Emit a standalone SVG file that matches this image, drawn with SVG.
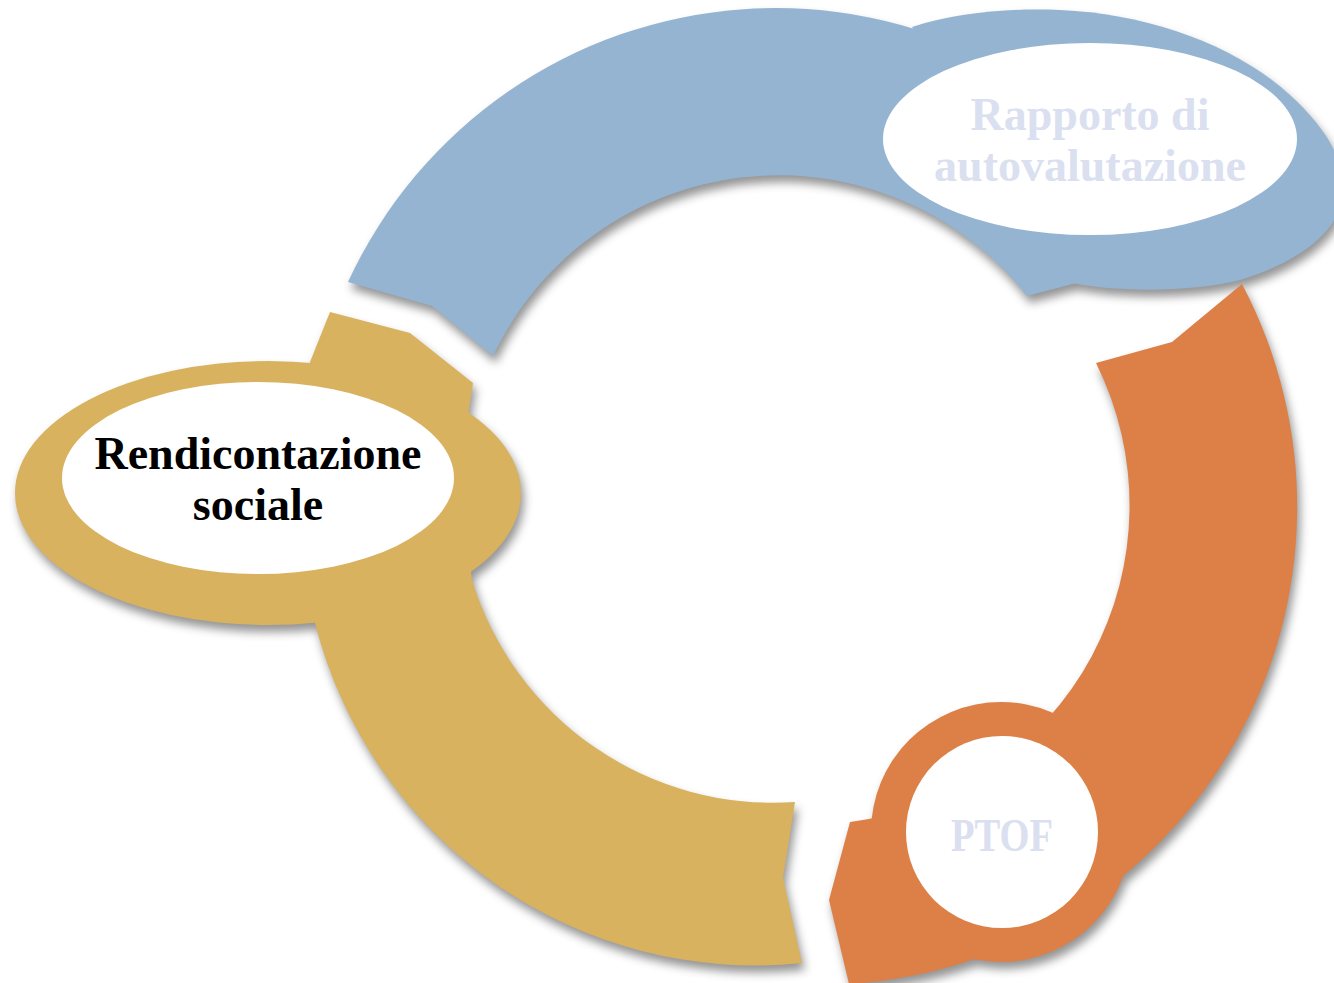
<svg xmlns="http://www.w3.org/2000/svg" width="1334" height="983" viewBox="0 0 1334 983">
  <style>
    .blue { fill: #94B4D2; }
    .orange { fill: #DD8048; }
    .gold { fill: #D8B25E; }
    .inner { fill: #FFFFFF; }
    .lbl { font-family: "Liberation Serif", "DejaVu Serif", serif; font-weight: bold; font-size: 46px; text-anchor: middle; }
    .light { fill: #DAE0F0; }
    .dark { fill: #000000; }
  </style>
  <defs>
    <filter id="sh" x="-10%" y="-10%" width="125%" height="125%">
      <feGaussianBlur in="SourceAlpha" stdDeviation="5"/>
      <feOffset dx="3" dy="7" result="b"/>
      <feFlood flood-color="#000000" flood-opacity="0.42"/>
      <feComposite in2="b" operator="in"/>
    </filter>
  </defs>

  <!-- shadow layer -->
  <g id="shadows" filter="url(#sh)">
    <use href="#arc-blue"/>
    <use href="#arc-orange"/>
    <use href="#arc-gold"/>
    <use href="#blob-blue"/>
    <use href="#blob-orange"/>
    <use href="#blob-gold"/>
  </g>

  <!-- connectors: cycle arrows -->
  <g id="connectors">
    <path id="arc-blue" class="blue" d="M 348,282 A 471 471 0 0 1 1173,226 L 1103,276 L 1027,296 A 316 316 0 0 0 493,356 L 432,306 Z"/>
    <path id="arc-orange" class="orange" d="M 1242,284 A 478 478 0 0 1 849,984 L 829,900 L 850,822 A 319 319 0 0 0 1096,363 L 1172,342 Z"/>
    <path id="arc-gold" class="gold" d="M 802,963 A 454 454 0 0 1 315,623 L 310,362 L 330,312 L 410,333 L 473,383 L 458,480 L 472,580 A 315 315 0 0 0 795,802 L 783,878 Z"/>
  </g>

  <!-- node: Rapporto di autovalutazione -->
  <g id="node-rapporto">
    <path id="blob-blue" class="blue" d="M 912,27 C 960,12 1010,8 1060,10 C 1150,14 1235,45 1290,95 C 1325,127 1346,160 1343,195 C 1340,230 1300,262 1240,280 C 1190,293 1110,292 1068,282 Z"/>
    <ellipse class="inner" cx="1090" cy="139" rx="207" ry="96"/>
    <text class="lbl light" x="1090" y="130">Rapporto di</text>
    <text class="lbl light" x="1090" y="181">autovalutazione</text>
  </g>

  <!-- node: PTOF -->
  <g id="node-ptof">
    <circle id="blob-orange" class="orange" cx="1001" cy="832" r="130"/>
    <circle class="inner" cx="1002" cy="832" r="96"/>
    <text class="lbl light" x="1002" y="851" textLength="102" lengthAdjust="spacingAndGlyphs">PTOF</text>
  </g>

  <!-- node: Rendicontazione sociale -->
  <g id="node-rendicontazione">
    <ellipse id="blob-gold" class="gold" cx="268" cy="493" rx="253" ry="132"/>
    <ellipse class="inner" cx="258" cy="478" rx="196" ry="96"/>
    <text class="lbl dark" x="258" y="469">Rendicontazione</text>
    <text class="lbl dark" x="258" y="520">sociale</text>
  </g>
</svg>
